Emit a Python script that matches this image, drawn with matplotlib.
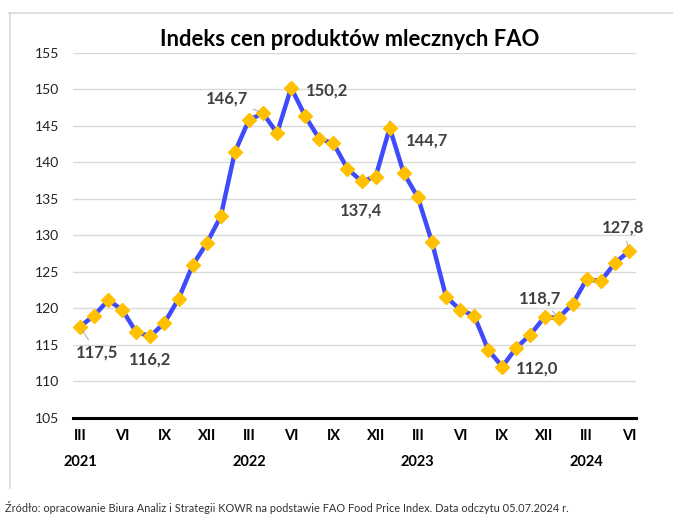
import matplotlib.pyplot as plt
from matplotlib.lines import Line2D
from matplotlib.transforms import blended_transform_factory

plt.rcParams['font.family'] = ['Lato', 'DejaVu Sans']

# FAO dairy price index, monthly III 2021 - VI 2024
values = [117.5, 119.0, 121.1, 119.8, 116.7, 116.2, 118.0, 121.3, 125.9, 128.9,
          132.6, 141.4, 145.8, 146.7, 144.0, 150.2, 146.3, 143.2, 142.6, 139.1,
          137.4, 138.0, 144.7, 138.5, 135.2, 129.1, 121.6, 119.8, 119.0, 114.3,
          112.0, 114.6, 116.4, 118.8, 118.7, 120.6, 124.0, 123.7, 126.2, 127.8]
month_labels = ['III', 'VI', 'IX', 'XII'] * 3 + ['III', 'VI']
years = ['2021', '2022', '2023', '2024']
title = 'Indeks cen produktów mlecznych FAO'
source = ('Źródło: opracowanie Biura Analiz i Strategii KOWR na podstawie FAO Food '
          'Price Index. Data odczytu 05.07.2024 r.')

# labelled points: index, text offset in points (dx, dy), leader line?
labels = [(0, (12, -19), True), (5, (0, -17), False), (13, (-26, 11), True),
          (15, (26, -2), False), (20, (0, -21), False), (22, (27, -9), False),
          (30, (25, -1), False), (34, (-13, 14), True), (39, (-4, 17), True)]

W, H = 673, 514
fig = plt.figure(figsize=(W / 100, H / 100), dpi=100)
ax = fig.add_axes([73 / W, 1 - 417.8 / H, (636 - 73) / W, (417.8 - 52.7) / H])

x = list(range(len(values)))
ax.plot(x, values, color='#3F4BFA', lw=3.2, zorder=3, solid_joinstyle='miter')
ax.plot(x, values, ls='none', marker='D', ms=7, color='#FFC000', zorder=4)

ax.set_xlim(-0.5, len(values) - 0.5)
ax.set_ylim(105, 155)
ax.set_yticks(range(105, 156, 5))
ax.grid(axis='y', color='#D9D9D9', lw=1)
ax.set_axisbelow(True)
for s in ['top', 'right', 'left']:
    ax.spines[s].set_visible(False)
ax.spines['bottom'].set_linewidth(2.2)
ax.spines['bottom'].set_color('black')
ax.tick_params(axis='y', length=0, pad=10, labelsize=10, labelcolor='#222222')

ax.set_xticks(range(0, len(values), 3))
ax.set_xticklabels(month_labels, fontweight='bold', fontsize=10.5)
ax.tick_params(axis='x', length=0, pad=8)

trans = blended_transform_factory(ax.transData, ax.transAxes)
for i, yr in enumerate(years):
    ax.text(i * 12, -0.121, yr, transform=trans, ha='center', va='center',
            fontsize=10.5, fontweight='bold')

for i, off, leader in labels:
    txt = f'{values[i]:.1f}'.replace('.', ',')
    ap = dict(arrowstyle='-', color='#A6A6A6', lw=0.7, shrinkA=2, shrinkB=3) if leader else None
    ax.annotate(txt, (i, values[i]), xytext=off, textcoords='offset points',
                ha='center', va='center', fontsize=12, fontweight='bold',
                color='#404040', arrowprops=ap, zorder=5)

fig.text(350 / W, 1 - 40 / H, title, ha='center', va='center', fontsize=15.8,
         fontweight='bold', color='black')
fig.text(5 / W, 1 - 508 / H, source, ha='left', va='center', fontsize=7.9,
         color='#333333')

# outer frame of the chart area
fig.add_artist(Line2D([9 / W, 1], [1 - 13 / H, 1 - 13 / H], color='#D9D9D9', lw=1.2))
fig.add_artist(Line2D([10 / W, 10 / W], [1 - 13 / H, 1 - 488 / H], color='#D9D9D9', lw=1.2))

fig.savefig('out.png', dpi=100)
